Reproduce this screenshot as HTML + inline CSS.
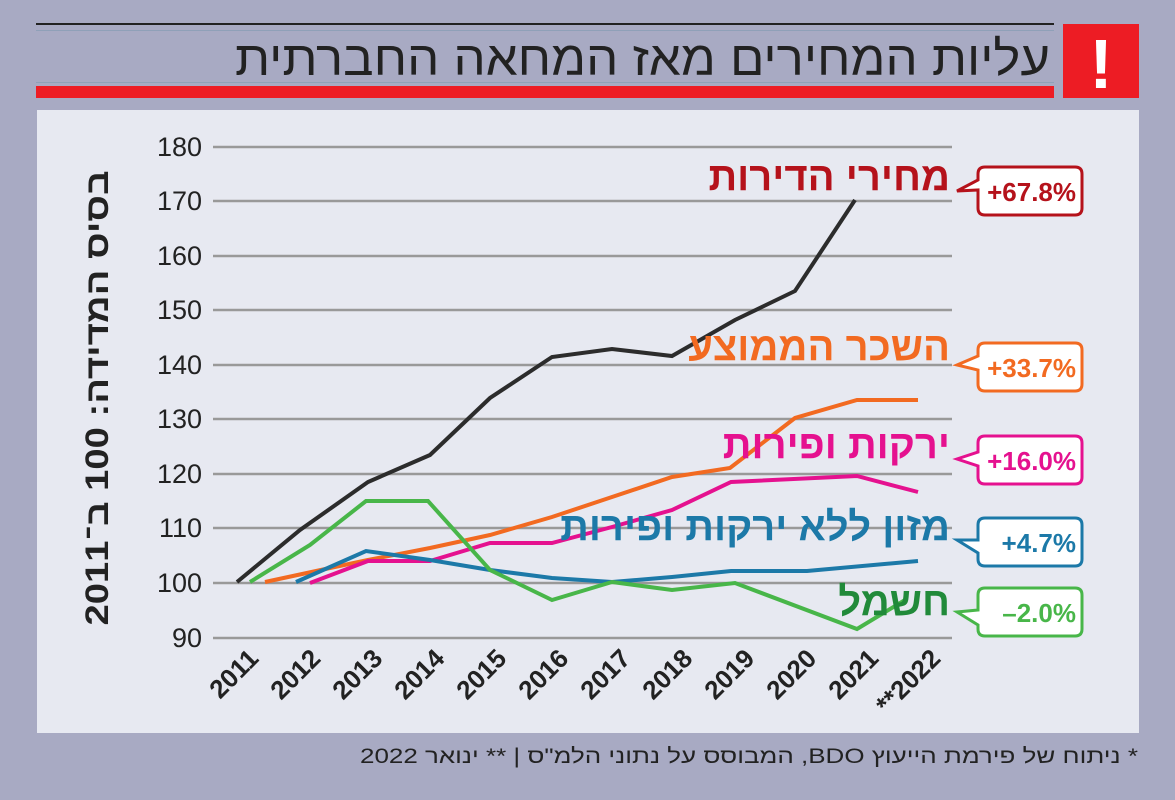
<!DOCTYPE html>
<html><head><meta charset="utf-8"><style>
body{margin:0;width:1175px;height:800px;background:#a8aac3;overflow:hidden;font-family:"Liberation Sans","Noto Sans CJK SC",sans-serif}
</style></head><body>
<svg width="1175" height="800" xmlns="http://www.w3.org/2000/svg" style="position:absolute;left:0;top:0">
<rect x="36" y="23" width="1018" height="2" fill="#222"/>
<rect x="36" y="30" width="1018" height="1" fill="#8fa0b8"/>
<rect x="36" y="82" width="1018" height="1" fill="#8fa0b8"/>
<rect x="36" y="86" width="1018" height="12" fill="#ed1c24"/>
<rect x="1063" y="24" width="76" height="74" fill="#ed1c24"/>
<text x="1101" y="88" font-size="70" font-weight="bold" fill="#fff" text-anchor="middle" font-family="Liberation Sans Narrow,Liberation Sans,sans-serif">!</text>
<text x="1050" y="75" font-size="48" fill="#222" text-anchor="start" direction="rtl" font-family="Liberation Sans Narrow,'Liberation Sans',sans-serif" textLength="815" lengthAdjust="spacingAndGlyphs">עליות המחירים מאז המחאה החברתית</text>
<rect x="37" y="110" width="1102" height="623" fill="#e7e9f1"/>
<g stroke="#999" stroke-width="2.5">
<line x1="213" x2="952" y1="147" y2="147"/><line x1="213" x2="952" y1="201" y2="201"/><line x1="213" x2="952" y1="256" y2="256"/><line x1="213" x2="952" y1="310" y2="310"/><line x1="213" x2="952" y1="365" y2="365"/><line x1="213" x2="952" y1="419" y2="419"/><line x1="213" x2="952" y1="474" y2="474"/><line x1="213" x2="952" y1="528" y2="528"/><line x1="213" x2="952" y1="583" y2="583"/><line x1="213" x2="952" y1="638" y2="638"/>
</g>
<g font-size="27" fill="#222" text-anchor="end" font-family="Liberation Sans Narrow,Liberation Sans,sans-serif">
<text x="202" y="156">180</text><text x="202" y="210">170</text><text x="202" y="265">160</text><text x="202" y="319">150</text><text x="202" y="374">140</text><text x="202" y="428">130</text><text x="202" y="483">120</text><text x="202" y="537">110</text><text x="202" y="592">100</text><text x="202" y="647">90</text>
</g>
<text transform="translate(108,398) rotate(-90)" font-size="32" font-weight="bold" fill="#222" text-anchor="middle" direction="rtl" textLength="455" lengthAdjust="spacingAndGlyphs">בסיס המדידה: 100 ב־2011</text>
<g font-size="26" font-weight="bold" fill="#222" text-anchor="end">
<text transform="translate(260,660) rotate(-45)">2011</text>
<text transform="translate(322,660) rotate(-45)">2012</text>
<text transform="translate(384,660) rotate(-45)">2013</text>
<text transform="translate(446,660) rotate(-45)">2014</text>
<text transform="translate(508,660) rotate(-45)">2015</text>
<text transform="translate(570,660) rotate(-45)">2016</text>
<text transform="translate(632,660) rotate(-45)">2017</text>
<text transform="translate(694,660) rotate(-45)">2018</text>
<text transform="translate(756,660) rotate(-45)">2019</text>
<text transform="translate(818,660) rotate(-45)">2020</text>
<text transform="translate(880,660) rotate(-45)">2021</text>
<text transform="translate(942,660) rotate(-45)">**2022</text>
</g>
<g fill="none" stroke-width="4" stroke-linejoin="miter">
<polyline stroke="#2c2c2c" points="237,582 300,530 368,482 430,455 490,398 552,357 612,349 672,356 735,320 795,291 855,200"/>
<polyline stroke="#f26a21" points="265,582 330,568 368,560 430,548 490,535 552,517 612,497 672,477 730,468 795,418 857,400 918,400"/>
<polyline stroke="#e5118f" points="310,583 368,561 430,561 490,543 552,543 612,527 672,510 731,482 857,476 918,492"/>
<polyline stroke="#1c79a8" points="296,582 366,551 430,560 490,570 552,578 612,582 672,577 731,571 807,571 918,561"/>
<polyline stroke="#48b649" points="250,582 310,545 366,501 428,501 490,570 552,600 612,582 672,590 735,583 857,629 905,600"/>
</g>
<g font-size="40" font-weight="bold" direction="rtl">
<text x="950" y="190" fill="#b5121b" text-anchor="start">מחירי הדירות</text>
<text x="950" y="360" fill="#f26a21" text-anchor="start">השכר הממוצע</text>
<text x="950" y="458" fill="#e5118f" text-anchor="start">ירקות ופירות</text>
<text x="950" y="540" fill="#1c79a8" text-anchor="start">מזון ללא ירקות ופירות</text>
<text x="950" y="615" fill="#218a3a" text-anchor="start">חשמל</text>
</g>
<g stroke-width="3" fill="#fff" font-size="26" font-weight="bold" text-anchor="end" direction="ltr">
<path d="M985,167 H1075 Q1082,167 1082,174 V208 Q1082,215 1075,215 H985 Q978,215 978,208 V190 L957,191 L978,180 V174 Q978,167 985,167Z" stroke="#b5121b"/>
<text x="1076" y="201" fill="#b5121b" stroke="none">+67.8%</text>
<path d="M985,343 H1075 Q1082,343 1082,350 V384 Q1082,391 1075,391 H985 Q978,391 978,384 V370 L957,365 L978,356 V350 Q978,343 985,343Z" stroke="#f26a21"/>
<text x="1076" y="377" fill="#f26a21" stroke="none">+33.7%</text>
<path d="M985,436 H1075 Q1082,436 1082,443 V477 Q1082,484 1075,484 H985 Q978,484 978,477 V466 L957,459 L978,452 V443 Q978,436 985,436Z" stroke="#e5118f"/>
<text x="1076" y="470" fill="#e5118f" stroke="none">+16.0%</text>
<path d="M985,518 H1075 Q1082,518 1082,525 V559 Q1082,566 1075,566 H985 Q978,566 978,559 V553 L957,540 L978,540 V525 Q978,518 985,518Z" stroke="#1c79a8"/>
<text x="1076" y="552" fill="#1c79a8" stroke="none">+4.7%</text>
<path d="M985,588 H1075 Q1082,588 1082,595 V629 Q1082,636 1075,636 H985 Q978,636 978,629 V625 L957,612 L978,610 V595 Q978,588 985,588Z" stroke="#48b649"/>
<text x="1076" y="622" fill="#48b649" stroke="none">–2.0%</text>
</g>
<text x="1138" y="763" font-size="21" fill="#222" text-anchor="start" direction="rtl" font-family="Liberation Sans Narrow,Liberation Sans,sans-serif" textLength="778" lengthAdjust="spacingAndGlyphs">* ניתוח של פירמת הייעוץ BDO, המבוסס על נתוני הלמ"ס | ** ינואר 2022</text>
</svg>
</body></html>
